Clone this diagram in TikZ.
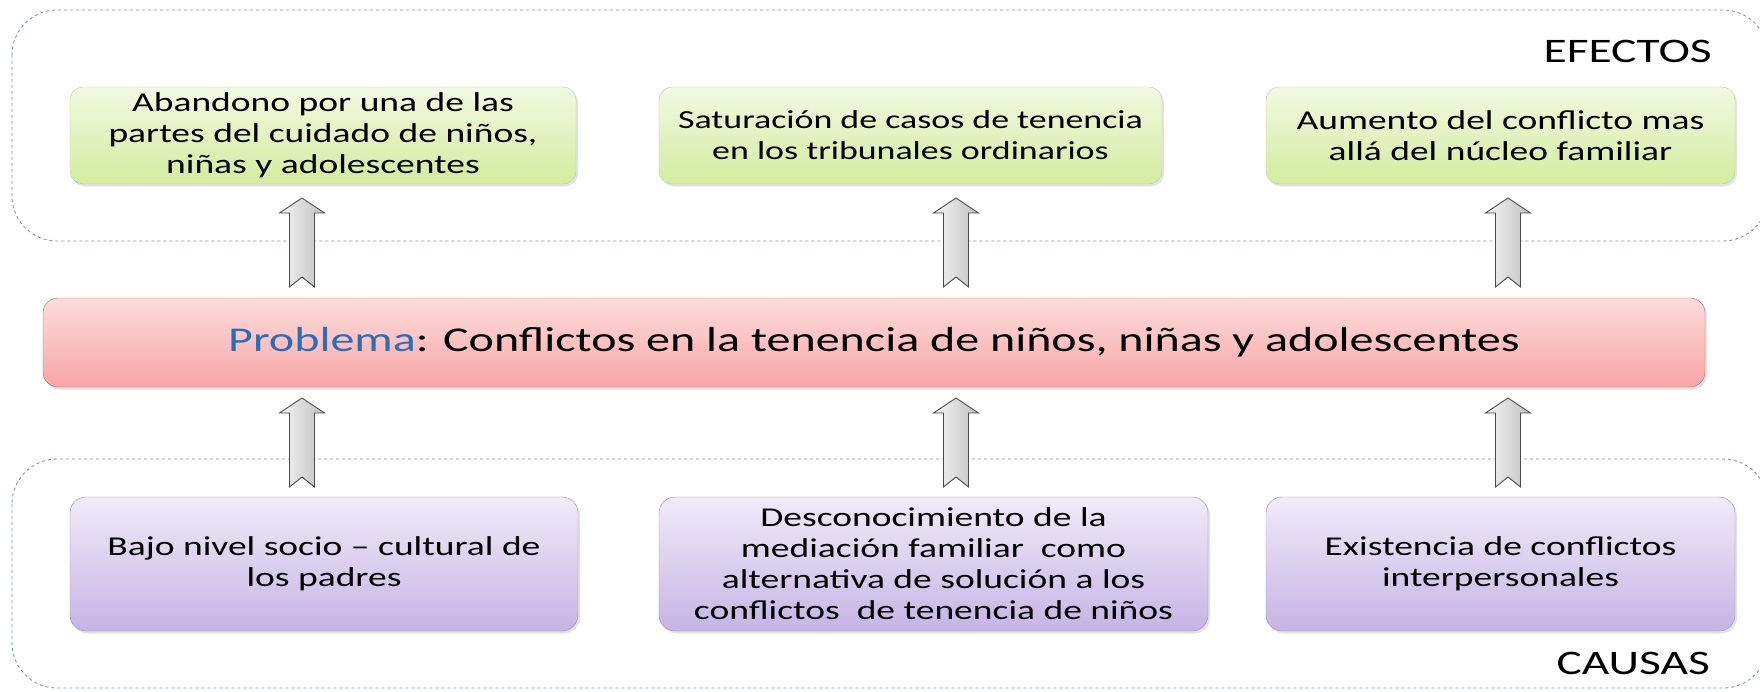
\documentclass[tikz,border=0pt]{standalone}
\usepackage{fontspec}
\setmainfont{Carlito}
\newfontfamily\boxfont{Carlito}[FakeStretch=1.38]
\usetikzlibrary{shadows}

\definecolor{greentop}{HTML}{F2F9E2}
\definecolor{greenbot}{HTML}{D2EC9E}
\definecolor{greenline}{HTML}{BACF93}
\definecolor{redtop}{HTML}{FDDCDC}
\definecolor{redbot}{HTML}{F8A6A6}
\definecolor{redline}{HTML}{B06E6E}
\definecolor{violettop}{HTML}{F0EBF8}
\definecolor{violetbot}{HTML}{C6B4E5}
\definecolor{violetline}{HTML}{9A8BB3}
\definecolor{frameline}{HTML}{8393AB}
\definecolor{problemblue}{HTML}{2A6EB5}

% block arrow pointing up, tip at the given coordinate
\newcommand{\blockup}[1]{%
  \draw[liftarrow] (#1) -- ++(22.5,15) -- ++(-10,0) -- ++(0,74) -- ++(-12.5,-10)
    -- ++(-12.5,10) -- ++(0,-74) -- ++(-10,0) -- cycle;}

\begin{document}
\begin{tikzpicture}[x=1pt, y=-1pt, align=center,
  frame/.style = {draw=frameline, dashed, rounded corners=45pt, line width=0.9pt},
  effect/.style = {draw=greenline, rounded corners=13pt, top color=greentop, bottom color=greenbot,
    drop shadow={opacity=0.22, shadow xshift=2pt, shadow yshift=-2.5pt},
    font=\boxfont\fontsize{27.2}{31}\selectfont, inner sep=0pt, minimum height=97pt},
  cause/.style = {draw=violetline, rounded corners=16pt, top color=violettop, bottom color=violetbot,
    drop shadow={opacity=0.22, shadow xshift=2pt, shadow yshift=-2.5pt},
    font=\boxfont\fontsize{27.2}{31}\selectfont, inner sep=0pt, minimum height=134pt},
  problem/.style = {draw=redline, rounded corners=15pt, top color=redtop, bottom color=redbot,
    drop shadow={opacity=0.22, shadow xshift=2pt, shadow yshift=-2.5pt},
    font=\boxfont\fontsize{34.8}{40}\selectfont, inner sep=0pt},
  tag/.style = {font=\boxfont\fontsize{34.4}{36}\selectfont, anchor=base east, inner sep=0pt},
  liftarrow/.style = {draw=black!70, line width=0.9pt, left color=gray!8, right color=gray!50}]
  \useasboundingbox (0,0) rectangle (1760,691);

  % dashed frames
  \draw[frame] (12,10) rectangle (1768,241);
  \draw[frame] (12,459) rectangle (1768,688);
  \node[tag] (efectos) at (1712,62) {EFECTOS};
  \node[tag] (causas) at (1710,674) {CAUSAS};

  % effects
  \node[effect, minimum width=506pt] (e1) at (323,135.5)
    {Abandono por una de las\\ partes del cuidado de niños,\\ niñas y adolescentes};
  \node[effect, minimum width=503pt, font=\boxfont\fontsize{26}{31}\selectfont] (e2) at (910.5,135.5)
    {Saturación de casos de tenencia\\ en los tribunales ordinarios};
  \node[effect, minimum width=469pt] (e3) at (1500.5,135.5)
    {Aumento del conflicto mas\\ allá del núcleo familiar};

  % problem
  \node[problem, minimum width=1662pt, minimum height=89pt] (p) at (874,342.5)
    {\textcolor{problemblue}{Problema}: Conflictos en la tenencia de niños, niñas y adolescentes};

  % causes
  \node[cause, minimum width=508pt] (c1) at (324,564)
    {Bajo nivel socio – cultural de\\ los padres};
  \node[cause, minimum width=549pt] (c2) at (933.5,564)
    {Desconocimiento de la\\ mediación familiar~ como\\ alternativa de solución a los\\ conflictos~ de tenencia de niños};
  \node[cause, minimum width=469pt] (c3) at (1500.5,564)
    {Existencia de conflictos\\ interpersonales};

  % arrows
  \coordinate (u1) at (302,198);
  \coordinate (u2) at (956,198);
  \coordinate (u3) at (1508,198);
  \coordinate (d1) at (302,398);
  \coordinate (d2) at (956,398);
  \coordinate (d3) at (1508,398);
  \blockup{u1} \blockup{u2} \blockup{u3}
  \blockup{d1} \blockup{d2} \blockup{d3}
\end{tikzpicture}
\end{document}
